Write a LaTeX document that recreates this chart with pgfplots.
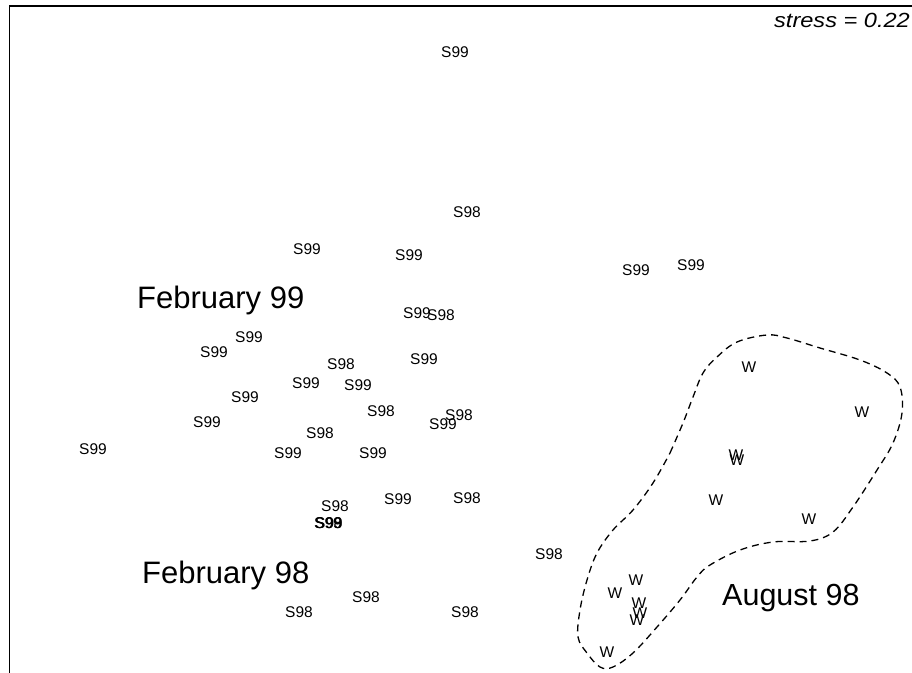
\documentclass[border=0pt]{standalone}
\usepackage{fontspec}
\setmainfont{Liberation Sans}
\newfontfamily\stressfont[FakeStretch=1.15]{Liberation Sans}
\usepackage{pgfplots}
\usepackage{pgfplotstable}
\pgfplotsset{compat=1.18}

% NMDS ordination scores (plot units, y grows downward)
\pgfplotstableread{
x y label
455 52 S99
307 249 S99
409 255 S99
636 270 S99
691 265 S99
417 313 S99
249 337 S99
214 352 S99
424 359 S99
306 383 S99
358 385 S99
245 397 S99
207 422 S99
443 424 S99
93 449 S99
288 453 S99
373 453 S99
398 499 S99
328 523 S99
329 523.5 S99
}\sninetynine

\pgfplotstableread{
x y label
467 212 S98
441 315 S98
341 364 S98
381 411 S98
459 415 S98
320 433 S98
335 506 S98
467 498 S98
328.5 523 S98
549 554 S98
366 597 S98
299 612 S98
465 612 S98
}\sninetyeight

\pgfplotstableread{
x y label
749 367 W
862 412 W
736 455 W
737 460 W
716 500 W
809 519 W
636 580 W
615 593 W
639 603 W
640 613 W
637 620 W
607 652 W
}\wsamples

\begin{document}
\begin{tikzpicture}
\begin{axis}[
  name=main,
  width=912bp, height=673bp, scale only axis,
  xmin=0, xmax=912, ymin=0, ymax=673,
  y dir=reverse,
  hide axis,
  clip=false,
  every node near coord/.append style={anchor=center, inner sep=0pt, text=black,
    font=\fontsize{15.5bp}{18bp}\selectfont},
]
% frame (left and top edges)
\draw[line width=1.5bp, black] (axis cs:9.5,673) -- (axis cs:9.5,6) -- (axis cs:912,6);

\addplot[only marks, mark=none, nodes near coords, point meta=explicit symbolic]
  table[meta=label] {\sninetynine};
\addplot[only marks, mark=none, nodes near coords, point meta=explicit symbolic]
  table[meta=label] {\sninetyeight};
\addplot[only marks, mark=none, nodes near coords, point meta=explicit symbolic]
  table[meta=label] {\wsamples};

% August 98 group outline
\addplot[black, line width=1.3bp, dash pattern=on 7bp off 5bp, smooth, tension=0.6] coordinates {
(670,453) (683,423) (693,397) (703,373) (717,357) (737,342) (767,335) (787,338)
(820,348) (860,360) (887,373) (900,387) (902,413) (893,443) (877,470) (853,507)
(833,532) (810,541) (773,542) (740,550) (710,565) (697,577) (680,600) (657,627)
(633,653) (613,667) (600,667) (587,653) (578,637) (580,610) (587,580) (597,553)
(613,530) (633,510) (653,483) (670,453)
};

\node[anchor=base west, inner sep=0pt, font=\fontsize{31bp}{34bp}\selectfont] at (axis cs:137,308) {February 99};
\node[anchor=base west, inner sep=0pt, font=\fontsize{31bp}{34bp}\selectfont] at (axis cs:142,583) {February 98};
\node[anchor=base west, inner sep=0pt, font=\fontsize{30.5bp}{34bp}\selectfont] at (axis cs:722,605) {August 98};
\node[anchor=base east, inner sep=0pt, font=\stressfont\itshape\fontsize{20.5bp}{24bp}\selectfont] at (axis cs:910,28) {stress = 0.22};
\end{axis}
\pgfresetboundingbox
\useasboundingbox (main.south west) rectangle (main.north east);
\end{tikzpicture}
\end{document}
